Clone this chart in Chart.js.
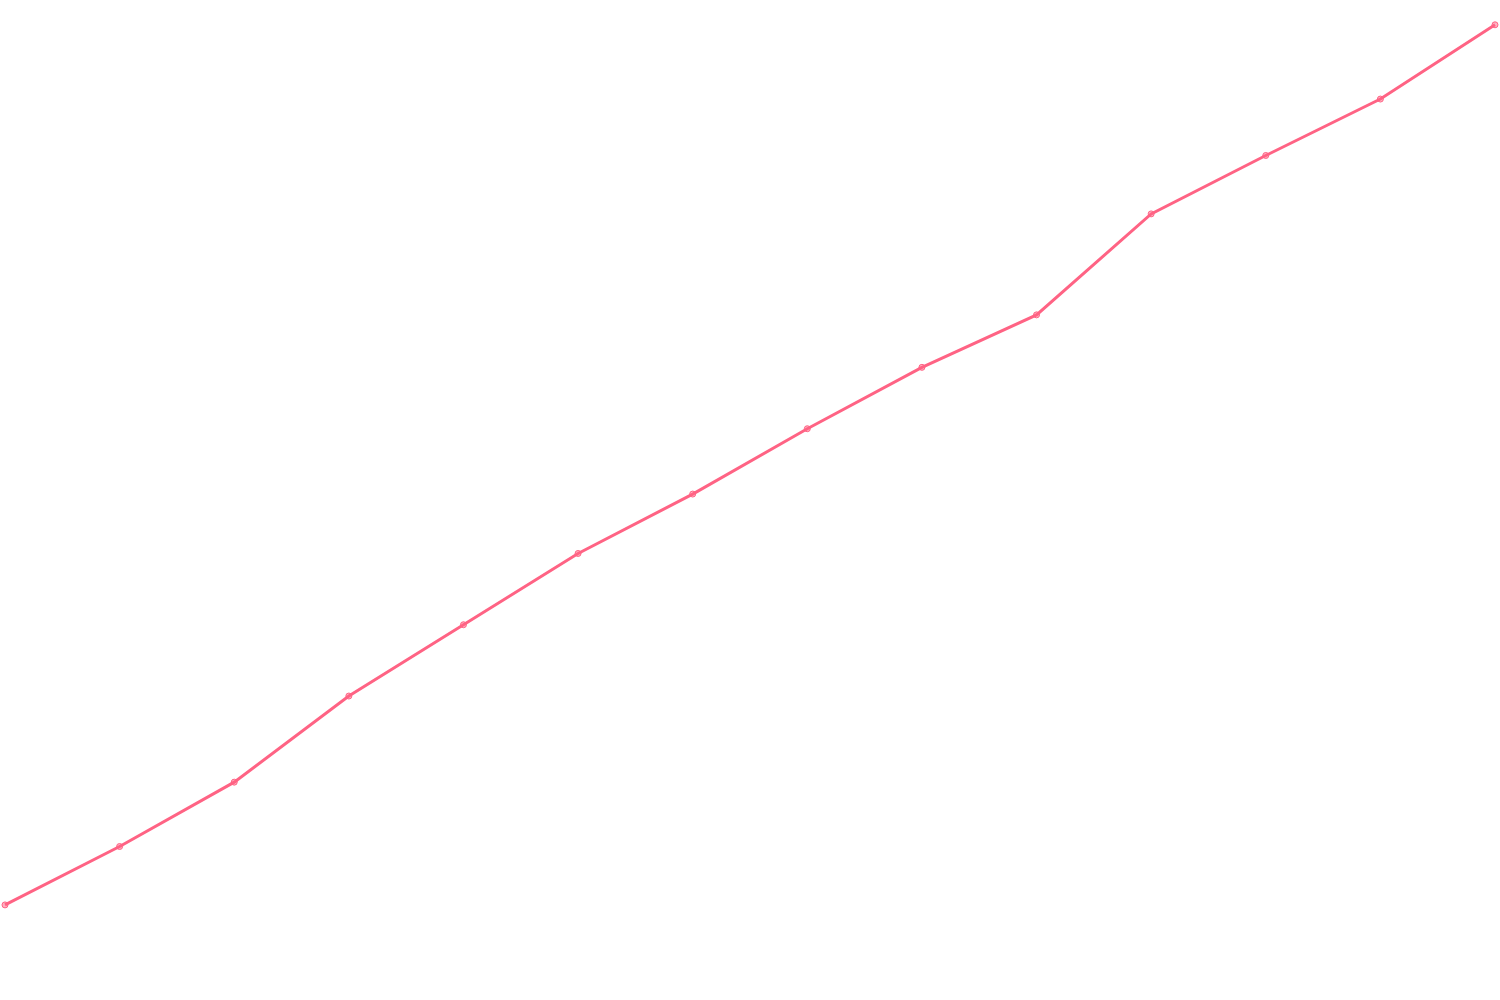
<!DOCTYPE html>
<html>
<head>
<meta charset="utf-8">
<script src="https://cdn.jsdelivr.net/npm/chart.js@4"></script>
<style>
  html, body { margin: 0; padding: 0; background: #fff; }
  #wrap { width: 1500px; height: 1000px; }
</style>
</head>
<body>
<div id="wrap"><canvas id="chart"></canvas></div>
<script>
const labels = ['1', '2', '3', '4', '5', '6', '7', '8', '9', '10', '11', '12', '13', '14']
const values = [9.1, 15.0, 21.5, 30.2, 37.4, 44.6, 50.6, 57.2, 63.4, 68.7, 78.9, 84.8, 90.5, 98.0]

const lineColor = 'rgb(255, 99, 132)'

new Chart(document.getElementById('chart'), {
  type: 'line',
  data: {
    labels,
    datasets: [
      {
        label: '',
        data: values,
        fill: false,
        tension: 0,
        borderWidth: 3,
        borderColor: lineColor,
        backgroundColor: 'rgba(255, 99, 132, 0.5)',
        pointRadius: 3,
        pointBorderWidth: 1,
      },
    ],
  },
  options: {
    maintainAspectRatio: false,
    animation: false,
    layout: { autoPadding: false, padding: 5 },
    plugins: {
      legend: { display: false },
      tooltip: { enabled: false },
    },
    scales: {
      x: { display: false },
      y: { display: false, min: 0, max: 100 },
    },
  },
})
</script>
</body>
</html>
